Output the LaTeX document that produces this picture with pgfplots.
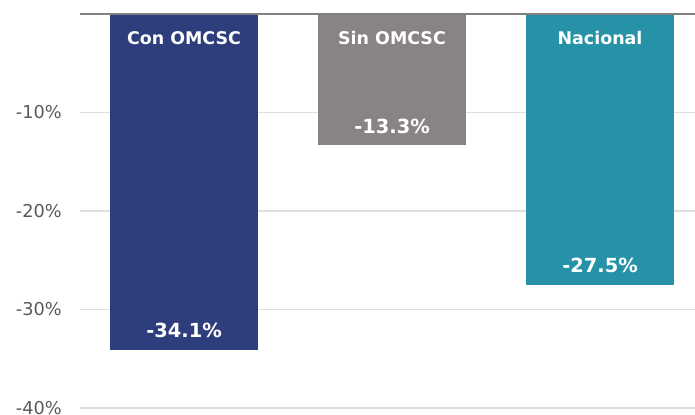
\documentclass[border=0pt]{standalone}
\usepackage{pgfplots}
\pgfplotsset{compat=1.18}
\usepackage{fontspec}
\setmainfont{DejaVu Sans}
\definecolor{cCon}{HTML}{2E3D7B}
\definecolor{cSin}{HTML}{898483}
\definecolor{cNac}{HTML}{2592A8}
\definecolor{tickc}{HTML}{595959}
\definecolor{gridc}{HTML}{DEDEDE}
\definecolor{topc}{HTML}{808080}
\begin{document}
\begin{tikzpicture}
\begin{axis}[
  name=ax,
  scale only axis,
  width=624bp, height=394bp,
  xmin=-0.5, xmax=2.5,
  ymin=-40, ymax=0,
  ytick={-40,-30,-20,-10},
  yticklabel={\pgfmathprintnumber{\tick}\%},
  /pgf/number format/assume math mode=true,
  yticklabel style={font=\fontsize{17.8}{20}\selectfont, color=tickc, anchor=east, inner sep=0pt, xshift=-18bp},
  xtick=\empty,
  major tick length=0pt,
  ymajorgrids,
  grid style={color=gridc, line width=1.5bp},
  axis line style={draw=none},
  ybar, bar width=148bp, bar shift=0pt,
  clip=false,
]
\addplot[fill=cCon, draw=none, nodes near coords={\pgfmathprintnumber[fixed,fixed zerofill,precision=1]{\pgfplotspointmeta}\%},
  every node near coord/.append style={anchor=center, yshift=19bp, text=white, font=\fontsize{19.5}{22}\selectfont\bfseries}]
  coordinates {(0,-34.1)};
\addplot[fill=cSin, draw=none, nodes near coords={\pgfmathprintnumber[fixed,fixed zerofill,precision=1]{\pgfplotspointmeta}\%},
  every node near coord/.append style={anchor=center, yshift=19bp, text=white, font=\fontsize{19.5}{22}\selectfont\bfseries}]
  coordinates {(1,-13.3)};
\addplot[fill=cNac, draw=none, nodes near coords={\pgfmathprintnumber[fixed,fixed zerofill,precision=1]{\pgfplotspointmeta}\%},
  every node near coord/.append style={anchor=center, yshift=19bp, text=white, font=\fontsize{19.5}{22}\selectfont\bfseries}]
  coordinates {(2,-27.5)};
\addplot[draw=none, fill=none, mark=none, forget plot, point meta=explicit symbolic,
  nodes near coords,
  every node near coord/.append style={anchor=center, yshift=-24bp, text=white, font=\fontsize{17.5}{20}\selectfont\bfseries}]
  coordinates {(0,0) [Con OMCSC] (1,0) [Sin OMCSC] (2,0) [Nacional]};
\draw[color=topc, line width=1.5bp] (axis description cs:0,1) -- (axis description cs:1,1);
\end{axis}
\pgfresetboundingbox
\path ([xshift=-80bp,yshift=-7bp]ax.south west) rectangle ([xshift=-9bp,yshift=14bp]ax.north east);
\end{tikzpicture}
\end{document}
